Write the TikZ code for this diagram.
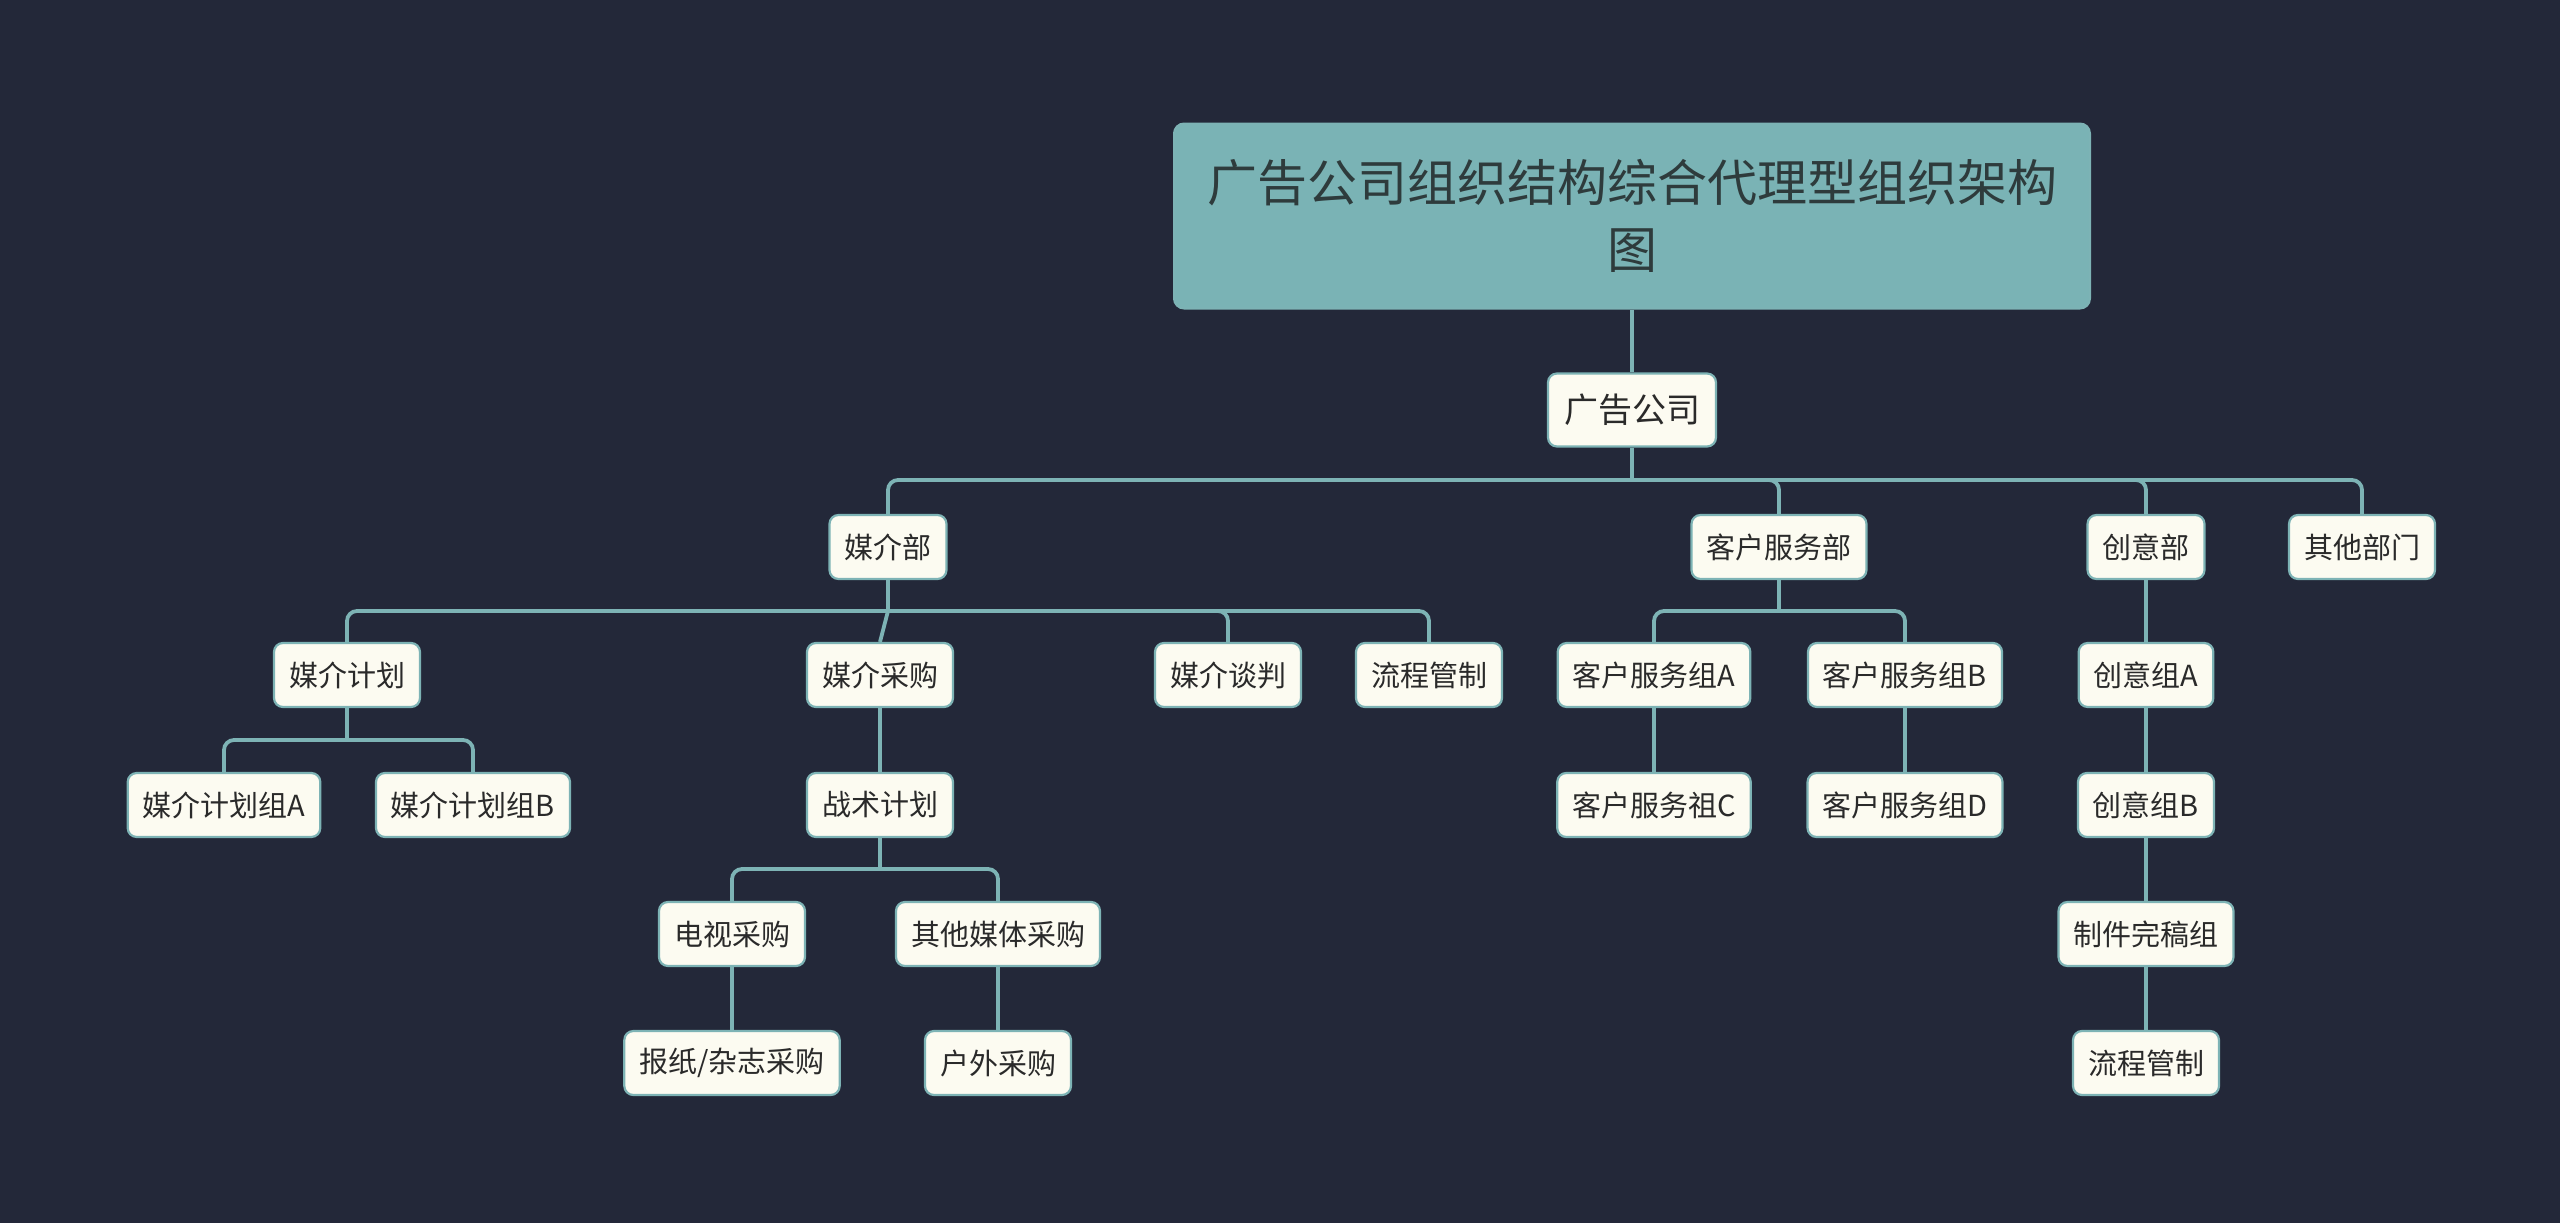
\documentclass[tikz,border=0pt]{standalone}
\usepackage{fontspec}
\newfontfamily\cjk{Noto Sans CJK SC}
\definecolor{bgc}{HTML}{232839}
\definecolor{linec}{HTML}{7DB3B5}
\definecolor{titlef}{HTML}{7AB3B5}
\definecolor{nodef}{HTML}{FCFBF1}
\definecolor{textc}{HTML}{2A2A2A}
\definecolor{titlet}{HTML}{2E3B3C}
\tikzset{
  box/.style={draw=linec, line width=2.2pt, fill=nodef, rounded corners=9pt,
    font=\cjk\fontsize{29}{35}\selectfont, text=textc, inner xsep=15pt,
    inner ysep=0pt, minimum height=64pt},
  rootbox/.style={box, font=\cjk\fontsize{34}{40}\selectfont, minimum width=168pt, minimum height=73pt},
  titlebox/.style={draw=linec, line width=2pt, fill=titlef, rounded corners=10pt,
    font=\cjk\fontsize{50}{67}\selectfont, text=titlet, align=center,
    minimum width=916pt, minimum height=185pt},
  conn/.style={draw=linec, line width=3.8pt, rounded corners=10pt},
}
\begin{document}
\begin{tikzpicture}[x=1pt,y=-1pt]
\fill[bgc] (0,0) rectangle (2560,1223);
\useasboundingbox (0,0) rectangle (2560,1223);

% title and root
\node[titlebox] (title) at (1632,216) {广告公司组织结构综合代理型组织架构\\图};
\node[rootbox] (root) at (1632,410) {广告公司};

% level 1
\node[box] (mj) at (888,547) {媒介部};
\node[box] (kh) at (1779,547) {客户服务部};
\node[box] (cy) at (2146,547) {创意部};
\node[box] (qt) at (2362,547) {其他部门};

% level 2
\node[box] (mjjh) at (347,675) {媒介计划};
\node[box] (mjcg) at (880,675) {媒介采购};
\node[box] (mjtp) at (1228,675) {媒介谈判};
\node[box] (lcgz) at (1429,675) {流程管制};
\node[box] (khA) at (1654,675) {客户服务组A};
\node[box] (khB) at (1905,675) {客户服务组B};
\node[box] (cyA) at (2146,675) {创意组A};

% level 3
\node[box] (jhA) at (224,805) {媒介计划组A};
\node[box] (jhB) at (473,805) {媒介计划组B};
\node[box] (zsjh) at (880,805) {战术计划};
\node[box] (khC) at (1654,805) {客户服务祖C};
\node[box] (khD) at (1905,805) {客户服务组D};
\node[box] (cyB) at (2146,805) {创意组B};

% level 4
\node[box] (dscg) at (732,934) {电视采购};
\node[box] (qtmt) at (998,934) {其他媒体采购};
\node[box] (zjwg) at (2146,934) {制件完稿组};

% level 5
\node[box] (bzzz) at (732,1063) {报纸/杂志采购};
\node[box] (hwcg) at (998,1063) {户外采购};
\node[box] (lcgz2) at (2146,1063) {流程管制};

% bus coordinates
\coordinate (b0) at (1632,480);
\coordinate (b1) at (888,611);
\coordinate (b2) at (1779,611);
\coordinate (b3) at (347,740);
\coordinate (b4) at (880,869);

\draw[conn] (title.south) -- (root.north);
\draw[conn] (root.south) -- (b0);
\draw[conn] (b0) -| (mj.north);
\draw[conn] (b0) -| (kh.north);
\draw[conn] (b0) -| (cy.north);
\draw[conn] (b0) -| (qt.north);

\draw[conn] (mj.south) -- (b1);
\draw[conn] (b1) -| (mjjh.north);
\draw[conn] (b1) -- (mjcg.north);
\draw[conn] (b1) -| (mjtp.north);
\draw[conn] (b1) -| (lcgz.north);

\draw[conn] (kh.south) -- (b2);
\draw[conn] (b2) -| (khA.north);
\draw[conn] (b2) -| (khB.north);
\draw[conn] (cy.south) -- (cyA.north);

\draw[conn] (mjjh.south) -- (b3);
\draw[conn] (b3) -| (jhA.north);
\draw[conn] (b3) -| (jhB.north);
\draw[conn] (mjcg.south) -- (zsjh.north);
\draw[conn] (khA.south) -- (khC.north);
\draw[conn] (khB.south) -- (khD.north);
\draw[conn] (cyA.south) -- (cyB.north);

\draw[conn] (zsjh.south) -- (b4);
\draw[conn] (b4) -| (dscg.north);
\draw[conn] (b4) -| (qtmt.north);
\draw[conn] (cyB.south) -- (zjwg.north);

\draw[conn] (dscg.south) -- (bzzz.north);
\draw[conn] (qtmt.south) -- (hwcg.north);
\draw[conn] (zjwg.south) -- (lcgz2.north);
\end{tikzpicture}
\end{document}
